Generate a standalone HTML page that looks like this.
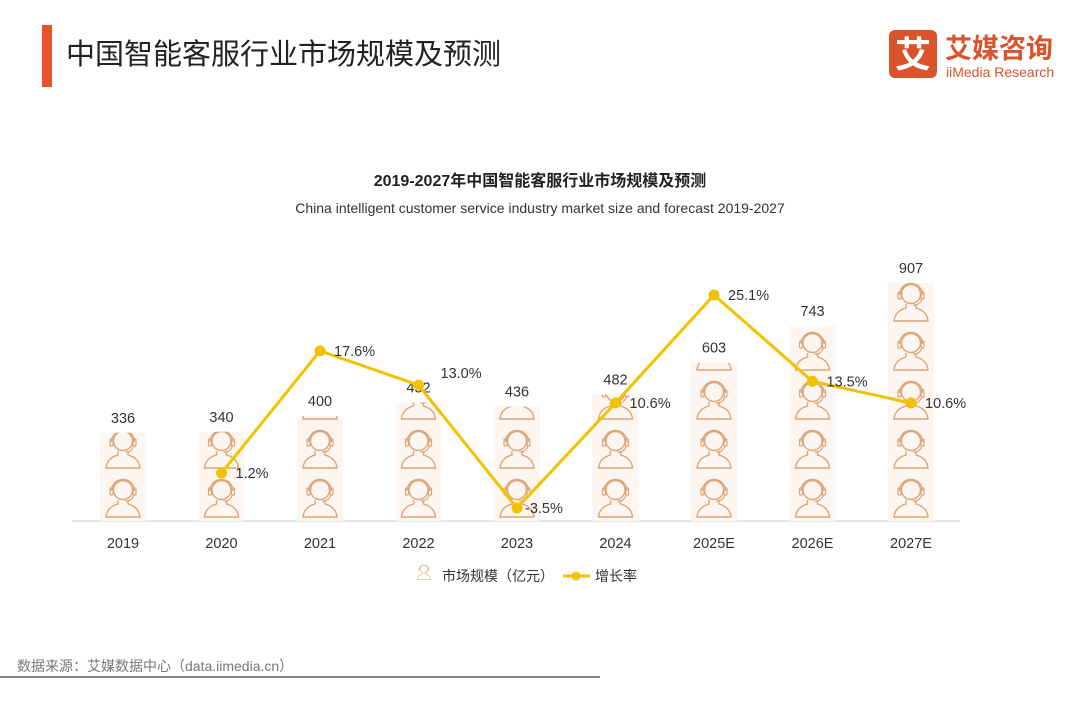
<!DOCTYPE html>
<html><head><meta charset="utf-8"><style>
body{margin:0;width:1080px;height:702px;background:#fff;overflow:hidden;font-family:"Liberation Sans","Noto Sans CJK SC",sans-serif;}
</style></head><body>
<svg width="1080" height="702" xmlns="http://www.w3.org/2000/svg">
<defs>
<g id="agent">
<circle cx="0" cy="-28" r="9.5" fill="none" stroke="#dca57a" stroke-width="1.4"/>
<path d="M-11.5,-27 A11.5,11.5 0 0 1 11.5,-27" fill="none" stroke="#dca57a" stroke-width="1.4"/>
<rect x="-13" y="-30" width="3" height="7" rx="1" fill="none" stroke="#dca57a" stroke-width="1.2"/>
<rect x="10" y="-30" width="3" height="7" rx="1" fill="none" stroke="#dca57a" stroke-width="1.2"/>
<path d="M11,-23 Q8,-16 2,-17" fill="none" stroke="#dca57a" stroke-width="1.2"/>
<path d="M-5,-18 L-5,-14 Q-16,-11 -17,-1 L17,-1 Q16,-11 5,-14 L5,-18" fill="none" stroke="#dca57a" stroke-width="1.4"/>
</g>
</defs>
<rect x="42" y="25" width="10" height="62" fill="#e8552d"/>
<text x="66" y="64" font-size="29" fill="#222">中国智能客服行业市场规模及预测</text>
<g>
<rect x="889" y="30" width="48" height="48" rx="6" fill="#d9542b"/>
<text x="913" y="67" font-size="36" font-weight="bold" fill="#fff" text-anchor="middle">艾</text>
<text x="945" y="58" font-size="27" font-weight="bold" fill="#d9542b">艾媒咨询</text>
<text x="946" y="77" font-size="14" fill="#d9542b">iiMedia Research</text>
</g>
<text x="540" y="186" font-size="16" font-weight="bold" fill="#222" text-anchor="middle">2019-2027年中国智能客服行业市场规模及预测</text>
<text x="540" y="213" font-size="14" fill="#333" text-anchor="middle">China intelligent customer service industry market size and forecast 2019-2027</text>
<line x1="72" y1="521" x2="960" y2="521" stroke="#ddd" stroke-width="1.5"/>
<g id="bars"></g>
<g id="line"></g>
<g>
<use href="#agent" transform="translate(424,580) scale(0.4)"/>
<text x="442" y="581" font-size="14" fill="#333">市场规模（亿元）</text>
<line x1="563" y1="576" x2="590" y2="576" stroke="#f2c200" stroke-width="3"/>
<circle cx="576" cy="576" r="4.5" fill="#f2c200"/>
<text x="595" y="581" font-size="14" fill="#333">增长率</text>
</g>
<text x="17" y="671" font-size="14" fill="#777">数据来源：艾媒数据中心（data.iimedia.cn）</text>
<line x1="0" y1="677" x2="600" y2="677" stroke="#888" stroke-width="2"/>
</svg>
<script>
const categories=["2019","2020","2021","2022","2023","2024","2025E","2026E","2027E"];
const marketSize=[336,340,400,452,436,482,603,743,907];
const growthRate=[null,1.2,17.6,13.0,-3.5,10.6,25.1,13.5,10.6];
const growthLabels=["","1.2%","17.6%","13.0%","-3.5%","10.6%","25.1%","13.5%","10.6%"];
const NS="http://www.w3.org/2000/svg";
const xS=i=>123+i*98.5;
const yBar=v=>521-v*0.2625;
const yPct=p=>403-(p-10.6)*7.45;
const bars=document.getElementById('bars');
const defs=document.querySelector('defs');
function mk(t,a){const e=document.createElementNS(NS,t);for(const k in a)e.setAttribute(k,a[k]);return e;}
categories.forEach((c,i)=>{
  const x=xS(i),top=yBar(marketSize[i]);
  const cp=mk('clipPath',{id:'cp'+i});cp.appendChild(mk('rect',{x:x-30,y:top,width:60,height:521-top}));defs.appendChild(cp);
  const g=mk('g',{'clip-path':'url(#cp'+i+')'});
  
  
  g.appendChild(mk('rect',{x:x-23,y:top,width:46,height:521-top,fill:'#fcf5f0'}));
  for(let b=518;b>top-60;b-=49){const u=mk('use',{href:'#agent',transform:`translate(${x},${b})`});g.appendChild(u);}
  bars.appendChild(g);
  const t=mk('text',{x:x,y:top-10,'font-size':14.5,fill:'#333','text-anchor':'middle'});
  
  
  t.textContent=marketSize[i];bars.appendChild(t);
  const xl=mk('text',{x:x,y:548,'font-size':14.5,fill:'#333','text-anchor':'middle'});
  
  
  xl.textContent=c;bars.appendChild(xl);
});
const lg=document.getElementById('line');
let d='';
growthRate.forEach((p,i)=>{if(p===null)return;d+=(d?'L':'M')+xS(i)+','+yPct(p);});
const path=mk('path',{d:d,fill:'none',stroke:'#f2c200','stroke-width':3});


lg.appendChild(path);
growthRate.forEach((p,i)=>{if(p===null)return;
  const c=mk('circle',{cx:xS(i),cy:yPct(p),r:5.5,fill:'#f2c200'});
  
  
  lg.appendChild(c);
  const dy=(i===3)?-12:0;
  const t=mk('text',{x:xS(i)+(p<0?8:14)+(i===3?8:0),y:yPct(p)+5+dy,'font-size':14.5,fill:'#333'});
  
  
  t.textContent=growthLabels[i];lg.appendChild(t);
});
</script>
</body></html>
